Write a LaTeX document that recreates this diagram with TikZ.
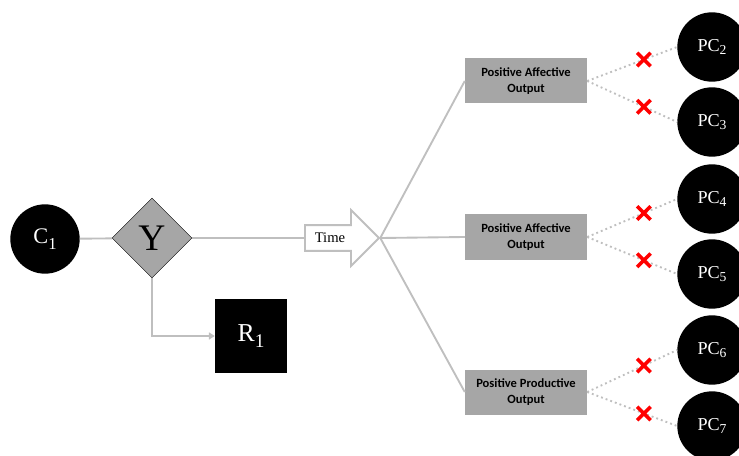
\documentclass[tikz,border=0pt]{standalone}
\usepackage{fontspec}
\usepackage{graphicx}
\setmainfont{Liberation Serif}
\newfontfamily\boxfont{Carlito}
\usetikzlibrary{shapes.geometric,shapes.arrows,shapes.misc,arrows.meta}

\definecolor{boxgray}{HTML}{A6A6A6}
\definecolor{linegray}{HTML}{BFBFBF}

% lowered index
\newcommand\lsub[2]{\raisebox{-#1}{\scalebox{0.75}{#2}}}

\tikzset{
  person/.style={circle,fill=black,text=white,minimum size=2.08cm,inner sep=0pt,font=\fontsize{15.5}{16}\selectfont},
  outbox/.style={rectangle,fill=boxgray,minimum width=3.66cm,minimum height=1.35cm,inner sep=0pt,align=center,font=\boxfont\bfseries\fontsize{10.7}{13.5}\selectfont},
  link/.style={linegray,line width=1.6pt},
  dotlink/.style={linegray,line width=1.6pt,dash pattern=on 1.6pt off 2.6pt},
  nope/.style={cross out,draw=red,solid,line width=3pt,minimum size=0.3cm,inner sep=0pt}
}

\begin{document}
\begin{tikzpicture}[x=0.03cm,y=-0.03cm]
\useasboundingbox (0,0) rectangle (739,456);

\node[person,font=\fontsize{19}{19}\selectfont] (c1) at (45,239) {C\lsub{0.3em}{1}};
\node[diamond,draw=black,fill=boxgray,minimum size=2.4cm,inner sep=0pt,font=\fontsize{32}{32}\selectfont] (y) at (152,238) {Y};
\node[fill=black,text=white,minimum width=2.16cm,minimum height=2.22cm,font=\fontsize{22}{22}\selectfont] (r1) at (251,336) {R\lsub{0.2em}{1}};
\node[single arrow,draw=linegray,line width=1.6pt,fill=white,anchor=tail,inner xsep=0pt,inner ysep=10.2pt,minimum height=2.22cm,single arrow head extend=0.45cm] (time) at (304,238) {};
\node[font=\fontsize{12.5}{12.5}\selectfont] (timetext) at (330,238) {Time};

\draw[link] (c1) -- (y);
\draw[link] (y.east) -- (time.tail);
\draw[link,-{Triangle[length=5pt,width=6pt]}] (y.south) |- (r1.west);

% outputs
\node[outbox] (out1) at (526,81) {Positive Affective\\Output};
\node[outbox] (out2) at (526,237) {Positive Affective\\Output};
\node[outbox] (out3) at (526,392) {Positive Productive\\Output};

\draw[link] (time.tip) -- (out1.west);
\draw[link] (time.tip) -- (out2.west);
\draw[link] (time.tip) -- (out3.west);

% personal characteristics
\node[person] (pc2) at (712,47) {PC\lsub{0.12em}{2}};
\node[person] (pc3) at (712,122) {PC\lsub{0.12em}{3}};
\node[person] (pc4) at (712,199) {PC\lsub{0.12em}{4}};
\node[person] (pc5) at (712,274) {PC\lsub{0.12em}{5}};
\node[person] (pc6) at (712,350) {PC\lsub{0.12em}{6}};
\node[person] (pc7) at (712,426) {PC\lsub{0.12em}{7}};

\draw[dotlink] (out1.east) -- node[nope,pos=0.63]{} (pc2.west);
\draw[dotlink] (out1.east) -- node[nope,pos=0.63]{} (pc3.west);
\draw[dotlink] (out2.east) -- node[nope,pos=0.63]{} (pc4.west);
\draw[dotlink] (out2.east) -- node[nope,pos=0.63]{} (pc5.west);
\draw[dotlink] (out3.east) -- node[nope,pos=0.63]{} (pc6.west);
\draw[dotlink] (out3.east) -- node[nope,pos=0.63]{} (pc7.west);

\end{tikzpicture}
\end{document}
